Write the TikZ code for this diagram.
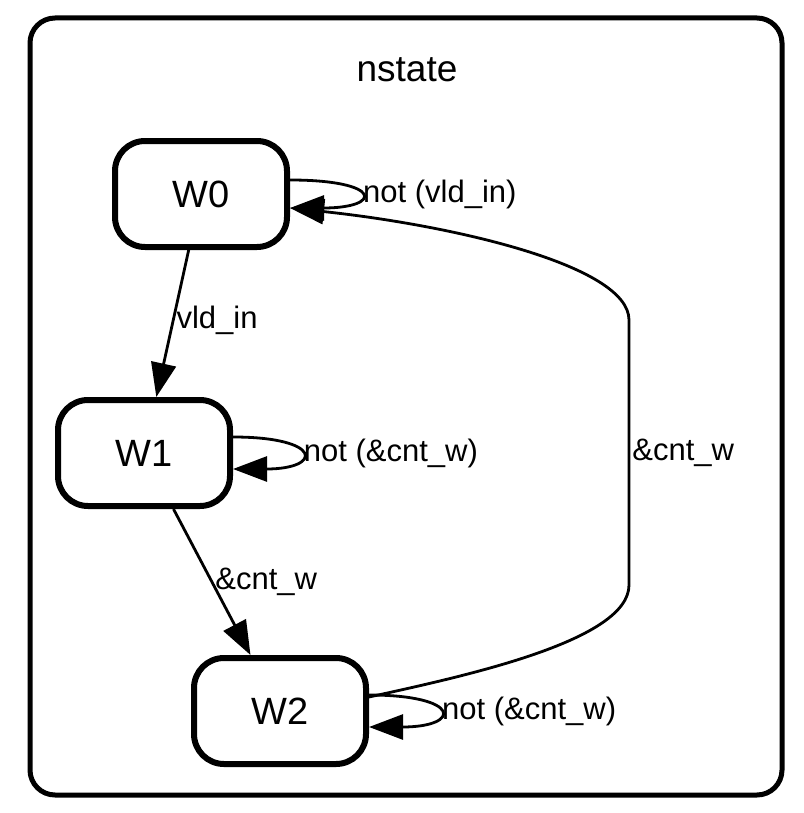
\documentclass[tikz,border=0pt]{standalone}
\usepackage{fontspec}
\setmainfont{Liberation Sans}
\usepackage{tikz}
\usetikzlibrary{arrows.meta, calc}

\begin{document}
\begin{tikzpicture}[x=0.5pt, y=-0.5pt,
    state/.style={draw, line width=3pt, rounded corners=15pt, minimum width=86pt, minimum height=53pt, align=center, font=\fontsize{19}{22}\selectfont},
    edge/.style={draw, line width=1.4pt, -{Triangle[length=17pt, width=12.5pt]}},
    lbl/.style={inner sep=1pt, font=\fontsize{15.5}{18}\selectfont}]
    \useasboundingbox (0,0) rectangle (803,813);

    % Cluster frame
    \draw[line width=2.5pt, rounded corners=12.5pt] (30,18) rectangle (782,795);
    \node[font=\fontsize{18.5}{22}\selectfont] (title) at (407,70) {nstate};

    % State boxes
    \node[state] (w0) at (201,194) {W0};
    \node[state] (w1) at (144,453) {W1};
    \node[state] (w2) at (280,711) {W2};

    % Bend points of the back edge
    \coordinate (r1) at (629,320);
    \coordinate (r2) at (629,585);

    % Transitions
    \draw[edge] (w0) -- node[lbl, right, pos=0.48] {vld\_in} (w1);
    \draw[edge] (w1) -- node[lbl, right, pos=0.5] {\&cnt\_w} (w2);
    \draw[edge] ([yshift=7pt]w2.east) .. controls (470,675) and (629,640) .. (r2)
        -- node[lbl, anchor=west, midway] {\&cnt\_w} (r1)
        .. controls (629,265) and (450,225) .. ([yshift=-7pt]w0.east);

    % Self loops
    \draw[edge] ([yshift=7pt]w0.east) .. controls +(93,0) and +(93,0) .. node[lbl, anchor=west, pos=0.5] {not (vld\_in)} ([yshift=-7pt]w0.east);
    \draw[edge] ([yshift=8pt]w1.east) .. controls +(90,0) and +(90,0) .. node[lbl, anchor=west, pos=0.5] {not (\&cnt\_w)} ([yshift=-8pt]w1.east);
    \draw[edge] ([yshift=8pt]w2.east) .. controls +(93,0) and +(93,0) .. node[lbl, anchor=west, pos=0.5] {not (\&cnt\_w)} ([yshift=-8pt]w2.east);
\end{tikzpicture}
\end{document}
